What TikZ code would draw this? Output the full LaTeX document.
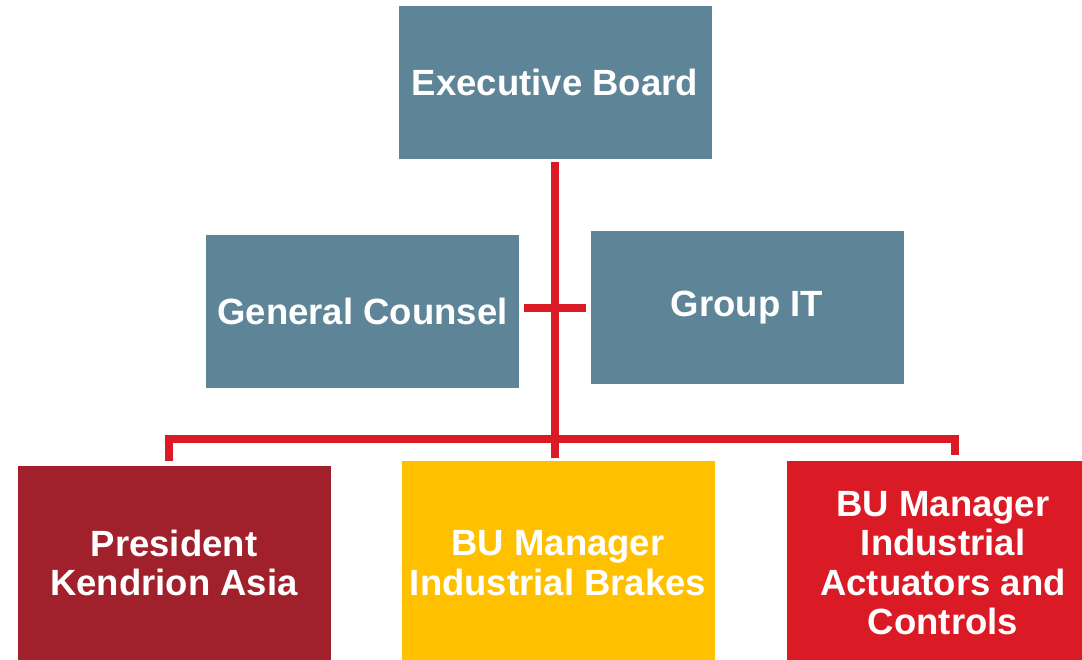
\documentclass[tikz,border=0pt]{standalone}
\usepackage{fontspec}
\setmainfont{Liberation Sans}
\definecolor{slate}{HTML}{5D8497}
\definecolor{kred}{HTML}{DA1A24}
\definecolor{dred}{HTML}{A0212B}
\definecolor{kyel}{HTML}{FFC000}
\tikzset{
  box/.style={rectangle, inner sep=0pt, outer sep=0pt, draw=none, text=white,
    font=\fontsize{36.5}{39.5}\selectfont\bfseries, align=center,
    minimum width=313pt},
  topbox/.style={box, fill=slate, minimum height=153pt},
  conn/.style={draw=kred, line width=8pt, line join=miter}
}
\begin{document}
\begin{tikzpicture}[x=1pt, y=-1pt]
\useasboundingbox (0,0) rectangle (1082,660);
\begin{scope}
\clip (0,0) rectangle (1082,660);
\node[topbox] (exec) at (555,82.5) {Executive Board};
\node[topbox] (gc) at (362.5,311.5) {General Counsel};
\node[topbox] (git) at (747,307.5) {Group IT};
\node[box, fill=dred, minimum height=194pt] (pres) at (174,563) {President\\Kendrion Asia};
\node[box, fill=kyel, minimum height=204pt] (brk) at (558,563) {BU Manager\\Industrial Brakes};
\node[box, fill=kred, minimum height=204pt] (act) at (943,563) {BU Manager\\Industrial\\Actuators and\\Controls};
\end{scope}
\coordinate (vtop) at ([yshift=-3pt]exec.south);
\coordinate (vbot) at (555,458);
\coordinate (cl) at ([xshift=5pt]gc.east |- 0,308);
\coordinate (cr) at ([xshift=-5pt]git.west |- 0,308);
\coordinate (dl) at (169,461);
\coordinate (bl) at (169,439);
\coordinate (br) at (955,439);
\coordinate (dr) at (955,455);
\draw[conn] (vtop) -- (vbot);
\draw[conn] (cl) -- (cr);
\draw[conn] (dl) -- (bl) -- (br) -- (dr);
\end{tikzpicture}
\end{document}
